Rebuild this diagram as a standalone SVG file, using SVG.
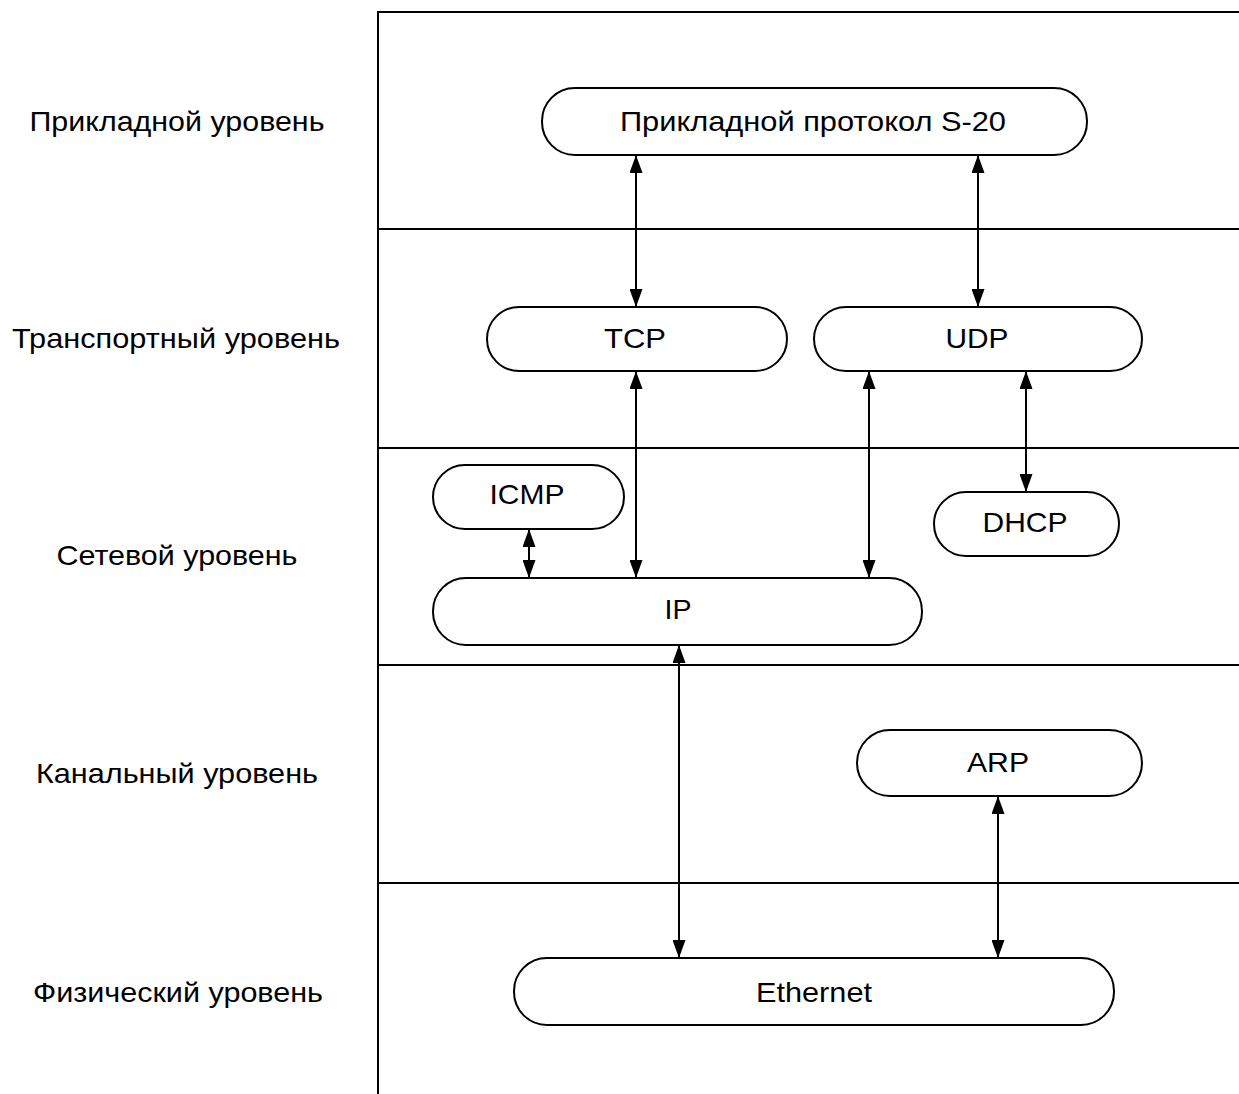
<svg xmlns="http://www.w3.org/2000/svg" width="1239" height="1094" viewBox="0 0 1239 1094">
<defs>
<style>
.frame{stroke:#000;stroke-width:2;fill:none}
.node rect{fill:#fff;stroke:#000;stroke-width:2}
text{font-family:"Liberation Sans",Arial,sans-serif;font-size:28px;fill:#000}
.node text{text-anchor:middle}
.lbl{text-anchor:middle}
.conn line{stroke:#000;stroke-width:2}
</style>
<marker id="arr" viewBox="0 0 18 13" refX="18" refY="6.5" markerWidth="18" markerHeight="13" markerUnits="userSpaceOnUse" orient="auto-start-reverse">
<path d="M0,0 L18,6.5 L0,13 Z" fill="#000"/>
</marker>
</defs>
<rect width="1239" height="1094" fill="#fff"/>
<g id="frame" class="frame">
<line x1="378" y1="12" x2="378" y2="1094"/>
<line x1="377" y1="12" x2="1239" y2="12"/>
<line x1="378" y1="229" x2="1239" y2="229"/>
<line x1="378" y1="448" x2="1239" y2="448"/>
<line x1="378" y1="665" x2="1239" y2="665"/>
<line x1="378" y1="883" x2="1239" y2="883"/>
</g>
<g id="layer-labels">
<text class="lbl" x="177" y="131" textLength="295" lengthAdjust="spacingAndGlyphs">Прикладной уровень</text>
<text class="lbl" x="176" y="348" textLength="328" lengthAdjust="spacingAndGlyphs">Транспортный уровень</text>
<text class="lbl" x="177" y="565" textLength="241" lengthAdjust="spacingAndGlyphs">Сетевой уровень</text>
<text class="lbl" x="177" y="783" textLength="282" lengthAdjust="spacingAndGlyphs">Канальный уровень</text>
<text class="lbl" x="178" y="1002" textLength="290" lengthAdjust="spacingAndGlyphs">Физический уровень</text>
</g>
<g id="connectors" class="conn">
<line x1="636" y1="155" x2="636" y2="307" marker-start="url(#arr)" marker-end="url(#arr)"/>
<line x1="978" y1="155" x2="978" y2="307" marker-start="url(#arr)" marker-end="url(#arr)"/>
<line x1="636" y1="371" x2="636" y2="578" marker-start="url(#arr)" marker-end="url(#arr)"/>
<line x1="869" y1="371" x2="869" y2="578" marker-start="url(#arr)" marker-end="url(#arr)"/>
<line x1="1026" y1="371" x2="1026" y2="492" marker-start="url(#arr)" marker-end="url(#arr)"/>
<line x1="529" y1="529" x2="529" y2="578" marker-start="url(#arr)" marker-end="url(#arr)"/>
<line x1="679" y1="645" x2="679" y2="958" marker-start="url(#arr)" marker-end="url(#arr)"/>
<line x1="998" y1="796" x2="998" y2="958" marker-start="url(#arr)" marker-end="url(#arr)"/>
</g>
<g id="node-s20" class="node">
<rect x="542" y="88" width="545" height="67" rx="33" ry="33"/>
<text x="813" y="131" textLength="386" lengthAdjust="spacingAndGlyphs">Прикладной протокол S-20</text>
</g>
<g id="node-tcp" class="node">
<rect x="487" y="307" width="300" height="64" rx="32" ry="32"/>
<text x="635" y="348" textLength="62" lengthAdjust="spacingAndGlyphs">TCP</text>
</g>
<g id="node-udp" class="node">
<rect x="814" y="307" width="328" height="64" rx="32" ry="32"/>
<text x="977" y="348" textLength="63" lengthAdjust="spacingAndGlyphs">UDP</text>
</g>
<g id="node-icmp" class="node">
<rect x="433" y="465" width="191" height="64" rx="32" ry="32"/>
<text x="527" y="504" textLength="75" lengthAdjust="spacingAndGlyphs">ICMP</text>
</g>
<g id="node-dhcp" class="node">
<rect x="934" y="492" width="185" height="64" rx="32" ry="32"/>
<text x="1025" y="532" textLength="85" lengthAdjust="spacingAndGlyphs">DHCP</text>
</g>
<g id="node-ip" class="node">
<rect x="433" y="578" width="489" height="67" rx="33" ry="33"/>
<text x="678" y="619" textLength="27" lengthAdjust="spacingAndGlyphs">IP</text>
</g>
<g id="node-arp" class="node">
<rect x="857" y="730" width="285" height="66" rx="33" ry="33"/>
<text x="998" y="772" textLength="62" lengthAdjust="spacingAndGlyphs">ARP</text>
</g>
<g id="node-ethernet" class="node">
<rect x="514" y="958" width="600" height="67" rx="33" ry="33"/>
<text x="814" y="1002" textLength="116" lengthAdjust="spacingAndGlyphs">Ethernet</text>
</g>
</svg>
